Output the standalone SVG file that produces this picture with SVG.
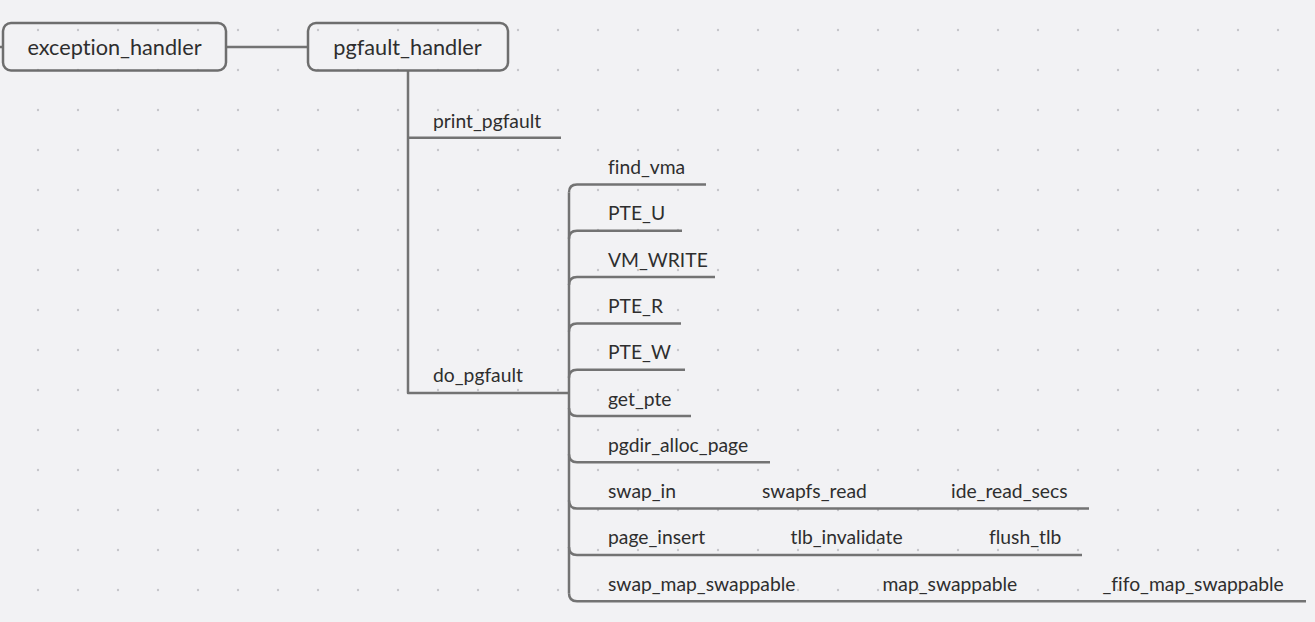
<svg xmlns="http://www.w3.org/2000/svg" width="1315" height="622" viewBox="0 0 1315 622">
<defs>
<pattern id="dots" x="18" y="10" width="40" height="40" patternUnits="userSpaceOnUse">
<circle cx="20" cy="20" r="1.2" fill="#c6c6ca"/>
</pattern>
<style>
.bg{fill:#f2f2f4}
.box{fill:none;stroke:#6e6e6e;stroke-width:2.5}
.ln{fill:none;stroke:#737373;stroke-width:2.5;stroke-linecap:butt;stroke-linejoin:round}
.t1{font-family:Lato,"Liberation Sans",sans-serif;font-size:21.7px;fill:#2e2e2e;text-anchor:middle;font-variant-ligatures:none}
.t2{font-family:Lato,"Liberation Sans",sans-serif;font-size:19.3px;fill:#2e2e2e;font-variant-ligatures:none}
</style>
</defs>
<rect class="bg" x="0" y="0" width="1315" height="622"/>
<rect x="0" y="0" width="1315" height="622" fill="url(#dots)"/>

<g id="connectors">
<path class="ln" d="M0 47 H3"/>
<path class="ln" d="M226 47 H308"/>
<path class="ln" d="M408 71 V393 H569"/>
<path class="ln" d="M408 137.7 H561"/>
<path class="ln" d="M569 192.5 V593.2"/>
<path class="ln" d="M569 192.5 Q569 184.5 577 184.5 H706"/>
<path class="ln" d="M569 238.8 Q569 230.8 577 230.8 H682"/>
<path class="ln" d="M569 285.1 Q569 277.1 577 277.1 H715"/>
<path class="ln" d="M569 331.4 Q569 323.4 577 323.4 H681"/>
<path class="ln" d="M569 377.7 Q569 369.7 577 369.7 H685"/>
<path class="ln" d="M569 408 Q569 416 577 416 H691"/>
<path class="ln" d="M569 454.3 Q569 462.3 577 462.3 H770"/>
<path class="ln" d="M569 500.6 Q569 508.6 577 508.6 H1089"/>
<path class="ln" d="M569 546.9 Q569 554.9 577 554.9 H1082"/>
<path class="ln" d="M569 593.2 Q569 601.2 577 601.2 H1306"/>
</g>

<g id="exception_handler">
<rect class="box" x="3" y="23" width="223" height="47.5" rx="8"/>
<text class="t1" x="114.5" y="54.5">exception_handler</text>
</g>
<g id="pgfault_handler">
<rect class="box" x="308" y="23" width="200" height="47.5" rx="8"/>
<text class="t1" x="407.5" y="54.5">pgfault_handler</text>
</g>
<g id="print_pgfault"><text class="t2" x="433" y="128">print_pgfault</text></g>
<g id="do_pgfault"><text class="t2" x="433" y="382">do_pgfault</text></g>
<g id="find_vma"><text class="t2" x="608" y="174">find_vma</text></g>
<g id="PTE_U"><text class="t2" x="608" y="220">PTE_U</text></g>
<g id="VM_WRITE"><text class="t2" x="608" y="266.5">VM_WRITE</text></g>
<g id="PTE_R"><text class="t2" x="608" y="313">PTE_R</text></g>
<g id="PTE_W"><text class="t2" x="608" y="359">PTE_W</text></g>
<g id="get_pte"><text class="t2" x="608" y="405.5">get_pte</text></g>
<g id="pgdir_alloc_page"><text class="t2" x="608" y="452">pgdir_alloc_page</text></g>
<g id="swap_in"><text class="t2" x="608" y="498">swap_in</text></g>
<g id="swapfs_read"><text class="t2" x="762" y="498">swapfs_read</text></g>
<g id="ide_read_secs"><text class="t2" x="951" y="498">ide_read_secs</text></g>
<g id="page_insert"><text class="t2" x="608" y="544">page_insert</text></g>
<g id="tlb_invalidate"><text class="t2" x="790.5" y="544">tlb_invalidate</text></g>
<g id="flush_tlb"><text class="t2" x="989" y="544">flush_tlb</text></g>
<g id="swap_map_swappable"><text class="t2" x="608" y="590.5">swap_map_swappable</text></g>
<g id="map_swappable"><text class="t2" x="882.5" y="590.5">map_swappable</text></g>
<g id="_fifo_map_swappable"><text class="t2" x="1102.5" y="590.5">_fifo_map_swappable</text></g>
</svg>
